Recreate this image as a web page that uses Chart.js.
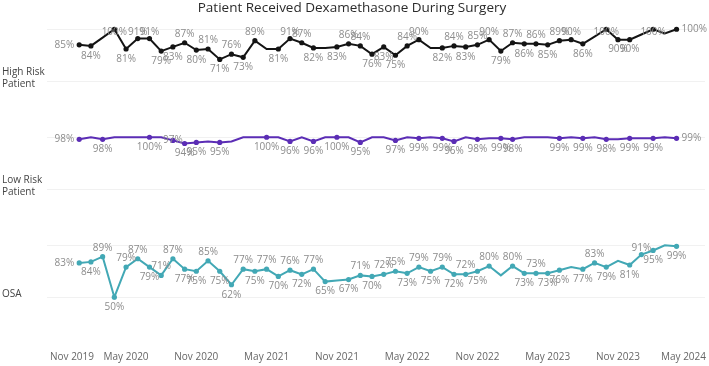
<!DOCTYPE html>
<html>
<head>
<meta charset="utf-8">
<script src="https://cdn.jsdelivr.net/npm/chart.js@4.4.1/dist/chart.umd.min.js"></script>
<style>
  html, body { margin: 0; padding: 0; background: #fff; }
  #wrap { width: 709px; height: 366px; position: relative; }
</style>
</head>
<body>
<div id="wrap"><canvas id="chart"></canvas></div>
<script>
// 月 (Jan 2020 - Apr 2024)
const months = [
  'Jan 2020', 'Feb 2020', 'Mar 2020', 'Apr 2020', 'May 2020', 'Jun 2020', 'Jul 2020', 'Aug 2020', 'Sep 2020', 'Oct 2020', 'Nov 2020', 'Dec 2020',
  'Jan 2021', 'Feb 2021', 'Mar 2021', 'Apr 2021', 'May 2021', 'Jun 2021', 'Jul 2021', 'Aug 2021', 'Sep 2021', 'Oct 2021', 'Nov 2021', 'Dec 2021',
  'Jan 2022', 'Feb 2022', 'Mar 2022', 'Apr 2022', 'May 2022', 'Jun 2022', 'Jul 2022', 'Aug 2022', 'Sep 2022', 'Oct 2022', 'Nov 2022', 'Dec 2022',
  'Jan 2023', 'Feb 2023', 'Mar 2023', 'Apr 2023', 'May 2023', 'Jun 2023', 'Jul 2023', 'Aug 2023', 'Sep 2023', 'Oct 2023', 'Nov 2023', 'Dec 2023',
  'Jan 2024', 'Feb 2024', 'Mar 2024', 'Apr 2024'
];
const axisTicks = ['Nov 2019', 'May 2020', 'Nov 2020', 'May 2021', 'Nov 2021', 'May 2022', 'Nov 2022', 'May 2023', 'Nov 2023', 'May 2024'];

const rowNames = [['High Risk', 'Patient'], ['Low Risk', 'Patient'], ['OSA']];

const highRisk = [85, 84, 92, 100, 81, 91, 91, 79, 83, 87, 80, 81, 71, 76, 73, 89, 81, 81, 91, 87,
  82, 82, 83, 86, 84, 76, 83, 75, 84, 90, 82, 82, 84, 83, 85, 90, 79, 87, 86, 86,
  85, 89, 90, 86, 93, 100, 90, 90, 95, 100, 96, 100];
const lowRisk = [98, 100, 98, 100, 100, 100, 100, 100, 97, 94, 95, 96, 95, 96, 100, 100, 100, 100, 96, 100,
  96, 100, 100, 100, 95, 100, 100, 97, 100, 99, 100, 99, 96, 100, 98, 99, 99, 98, 100, 100,
  100, 99, 100, 99, 100, 98, 98, 99, 99, 99, 100, 99];
const osa = [83, 84, 89, 50, 79, 87, 79, 71, 87, 77, 75, 85, 75, 62, 77, 75, 77, 70, 76, 72,
  77, 65, 66, 67, 71, 70, 72, 75, 73, 79, 75, 79, 72, 72, 75, 80, 71, 80, 73, 73,
  73, 76, 79, 77, 83, 79, 85, 81, 91, 95, 100, 99];

// ラベル表示ルール (Tableau が隠したラベルと位置)
const highHidden = [2, 16, 21, 30, 44, 48, 50];
const lowShown = [0, 2, 6, 8, 9, 10, 12, 16, 18, 20, 22, 24, 27, 29, 31, 32, 34, 36, 37, 41, 43, 45, 47, 49, 51];
const osaHidden = [22, 36, 42, 46, 50];

const labelRules = [
  { show: i => !highHidden.includes(i), mode: 'auto', above: [34], below: [26] },
  { show: i => lowShown.includes(i), mode: 'below', above: [8], below: [] },
  { show: i => !osaHidden.includes(i), mode: 'auto', above: [7, 26, 33, 39], below: [12, 51] }
];

const colors = ['#141414', '#5b2db5', '#42a8b5'];
const FONT = '"Open Sans", sans-serif';

function monthIndex(label) {
  const names = ['Jan', 'Feb', 'Mar', 'Apr', 'May', 'Jun', 'Jul', 'Aug', 'Sep', 'Oct', 'Nov', 'Dec'];
  const [m, y] = label.split(' ');
  return (parseInt(y) - 2020) * 12 + names.indexOf(m);
}

function makeDataset(values, idx, axis) {
  const rule = labelRules[idx];
  return {
    label: rowNames[idx].join(' '),
    data: values.map((v, i) => ({ x: monthIndex(months[i]), y: v })),
    yAxisID: axis,
    borderColor: colors[idx],
    backgroundColor: colors[idx],
    borderWidth: 2,
    tension: 0,
    pointRadius: values.map((v, i) => rule.show(i) ? 2.6 : 0),
    pointBorderWidth: 0,
    pointHoverRadius: 0
  };
}

function rowAxis(weight) {
  return {
    type: 'linear',
    position: 'left',
    stack: 'rows',
    stackWeight: 1,
    weight: weight,
    min: 3,
    max: 107,
    afterBuildTicks: scale => { scale.ticks = [{ value: 50 }, { value: 100 }]; },
    ticks: { display: false },
    border: { display: false },
    grid: { color: '#f1f1f1', lineWidth: 1, drawTicks: false, tickLength: 0 }
  };
}

// タイトル・行ヘッダー・軸ラベル・値ラベル
const textPlugin = {
  id: 'texts',
  afterDatasetsDraw(chart) {
    const ctx = chart.ctx;
    const area = chart.chartArea;
    ctx.save();

    // タイトル
    ctx.fillStyle = '#2b2b2b';
    ctx.font = '500 13.5px ' + FONT;
    ctx.textAlign = 'center';
    ctx.textBaseline = 'middle';
    ctx.fillText('Patient Received Dexamethasone During Surgery', 352, 8);

    // 行ヘッダー
    ctx.font = '10px ' + FONT;
    ctx.fillStyle = '#444';
    ctx.textAlign = 'left';
    ['yHigh', 'yLow', 'yOsa'].forEach((id, k) => {
      const s = chart.scales[id];
      const mid = (s.top + s.bottom) / 2 + 2;
      const lines = rowNames[k];
      lines.forEach((t, j) => {
        ctx.fillText(t, 2, mid + (j - (lines.length - 1) / 2) * 12);
      });
    });

    // x 軸ラベル (端はプロット内に収める)
    const xs = chart.scales.x;
    ctx.fillStyle = '#666';
    ctx.textAlign = 'center';
    axisTicks.forEach(t => {
      const w = ctx.measureText(t).width;
      let px = xs.getPixelForValue(monthIndex(t));
      px = Math.max(px, area.left + 3 + w / 2);
      px = Math.min(px, chart.width - 3 - w / 2);
      ctx.fillText(t, px, 357);
    });

    // 値ラベル
    ctx.font = '10px ' + FONT;
    ctx.fillStyle = '#8c8c8c';
    chart.data.datasets.forEach((ds, di) => {
      const rule = labelRules[di];
      const meta = chart.getDatasetMeta(di);
      const ys = chart.scales[ds.yAxisID];
      const vals = ds.data.map(p => p.y);
      const last = vals.length - 1;
      meta.data.forEach((pt, i) => {
        if (!rule.show(i)) return;
        const text = vals[i] + '%';
        let x = pt.x, y = pt.y;
        if (i === 0) {
          ctx.textAlign = 'right';
          x -= 5;
        } else if (i === last && !rule.below.includes(i)) {
          ctx.textAlign = 'left';
          x += 5;
        } else {
          ctx.textAlign = 'center';
          let above;
          if (rule.above.includes(i)) above = true;
          else if (rule.below.includes(i)) above = false;
          else if (rule.mode === 'below') above = false;
          else above = vals[i] > (vals[i - 1] + vals[i + 1]) / 2;
          y = above ? Math.max(y - 9, ys.top + 10) : y + 10;
        }
        ctx.fillText(text, x, y);
      });
    });
    ctx.restore();
  }
};

const chart = new Chart(document.getElementById('chart'), {
  type: 'line',
  data: {
    datasets: [
      makeDataset(highRisk, 0, 'yHigh'),
      makeDataset(lowRisk, 1, 'yLow'),
      makeDataset(osa, 2, 'yOsa')
    ]
  },
  options: {
    responsive: true,
    maintainAspectRatio: false,
    animation: false,
    layout: { padding: { left: 47, right: 4, top: 22, bottom: 20 } },
    plugins: {
      legend: { display: false },
      tooltip: { enabled: false }
    },
    scales: {
      x: { type: 'linear', display: false, min: -2.75, max: 53.43 },
      yHigh: rowAxis(3),
      yLow: rowAxis(2),
      yOsa: rowAxis(1)
    }
  },
  plugins: [textPlugin]
});
</script>
</body>
</html>
